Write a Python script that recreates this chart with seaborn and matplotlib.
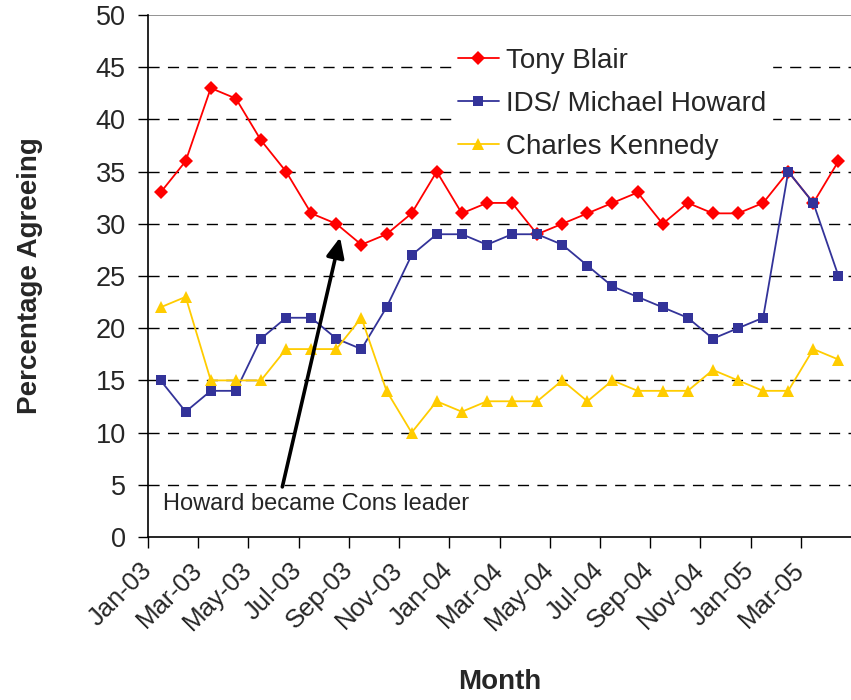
import matplotlib
matplotlib.use("Agg")
import matplotlib.pyplot as plt
import seaborn as sns
import pandas as pd
import numpy as np

months = ["Jan-03", "Feb-03", "Mar-03", "Apr-03", "May-03", "Jun-03", "Jul-03",
          "Aug-03", "Sep-03", "Oct-03", "Nov-03", "Dec-03", "Jan-04", "Feb-04",
          "Mar-04", "Apr-04", "May-04", "Jun-04", "Jul-04", "Aug-04", "Sep-04",
          "Oct-04", "Nov-04", "Dec-04", "Jan-05", "Feb-05", "Mar-05", "Apr-05"]
blair = [33, 36, 43, 42, 38, 35, 31, 30, 28, 29, 31, 35, 31, 32,
         32, 29, 30, 31, 32, 33, 30, 32, 31, 31, 32, 35, 32, 36]
howard = [15, 12, 14, 14, 19, 21, 21, 19, 18, 22, 27, 29, 29, 28,
          29, 29, 28, 26, 24, 23, 22, 21, 19, 20, 21, 35, 32, 25]
kennedy = [22, 23, 15, 15, 15, 18, 18, 18, 21, 14, 10, 13, 12, 13,
           13, 13, 15, 13, 15, 14, 14, 14, 16, 15, 14, 14, 18, 17]
series_names = ["Tony Blair", "IDS/ Michael Howard", "Charles Kennedy"]
y_ticks = list(range(0, 55, 5))

sns.set_theme(style="white")
plt.rcParams["font.family"] = ["Liberation Sans", "DejaVu Sans"]

idx = np.arange(len(months))
df = pd.concat([
    pd.DataFrame({"pos": idx, "value": vals, "leader": name})
    for name, vals in zip(series_names, [blair, howard, kennedy])
])

palette = {"Tony Blair": "#FF0000", "IDS/ Michael Howard": "#333399",
           "Charles Kennedy": "#FFCC00"}
markers = {"Tony Blair": "D", "IDS/ Michael Howard": "s", "Charles Kennedy": "^"}
sizes = {"Tony Blair": 7.2, "IDS/ Michael Howard": 7.5, "Charles Kennedy": 9}

fig = plt.figure(figsize=(8.51, 7.0), dpi=100)
ax = fig.add_axes([148 / 851, 163 / 700, 703 / 851, 522 / 700])

for name in series_names:
    sub = df[df["leader"] == name]
    sns.lineplot(data=sub, x="pos", y="value", color=palette[name],
                 marker=markers[name], markersize=sizes[name],
                 markeredgewidth=0, linewidth=1.3, label=name, ax=ax,
                 zorder=3)

ax.set_xlim(-0.5, len(months) - 0.5)
ax.set_ylim(0, 50)

# dashed horizontal gridlines; the top one is a solid grey border
for yv in y_ticks[1:-1]:
    ax.axhline(yv, color="black", lw=1, ls=(0, (8, 6)), zorder=1)
ax.axhline(50, color="#808080", lw=1.2, zorder=1)

ax.set_yticks(y_ticks)
ax.set_yticklabels([str(v) for v in y_ticks], fontsize=19.5)
ax.set_xticks(idx[::2] - 0.5)
ax.set_xticklabels(months[::2], fontsize=18.5, rotation=45,
                   ha="right", va="center", rotation_mode="anchor")
ax.tick_params(axis="x", length=8, width=1, color="black", pad=13,
               direction="out", bottom=True)
ax.tick_params(axis="y", length=7, width=1, color="black", pad=9,
               direction="out", left=True)

for side in ["top", "right"]:
    ax.spines[side].set_visible(False)
for side in ["left", "bottom"]:
    ax.spines[side].set_color("black")
    ax.spines[side].set_linewidth(1.2)

ax.set_xlabel("Month", fontsize=20, fontweight="bold", labelpad=24)
ax.set_ylabel("Percentage Agreeing", fontsize=20, fontweight="bold", labelpad=38)

leg = ax.legend(loc="upper left", bbox_to_anchor=(452 / 851, 1 - 42 / 700),
                bbox_transform=fig.transFigure, frameon=True, fontsize=20,
                handlelength=1.5, handletextpad=0.25, labelspacing=0.62,
                borderpad=0.2, borderaxespad=0)
leg.get_frame().set_facecolor("white")
leg.get_frame().set_edgecolor("white")
leg.get_frame().set_alpha(1)
leg.set_zorder(5)

ax.annotate("", xy=(7.15, 28.7), xytext=(4.85, 4.8),
            arrowprops=dict(arrowstyle="-|>,head_length=1.0,head_width=0.45",
                            color="black", lw=2.6, shrinkA=0, shrinkB=0),
            zorder=4)
ax.text(0.1, 3.2, "Howard became Cons leader", fontsize=17,
        ha="left", va="center", zorder=4)

fig.savefig("out.png", dpi=100)
